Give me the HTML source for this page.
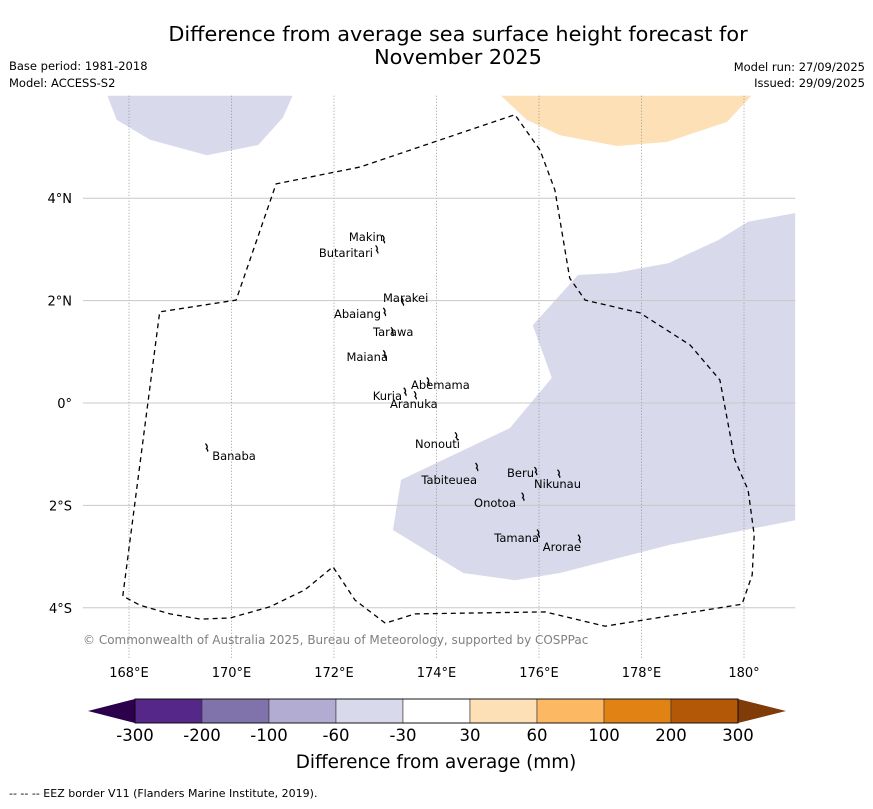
<!DOCTYPE html>
<html><head><meta charset="utf-8"><style>
body{margin:0;background:#fff;font-family:"Liberation Sans","DejaVu Sans",sans-serif}
svg text{font-family:"DejaVu Sans","Liberation Sans",sans-serif}
</style></head><body>
<svg id="s" width="873" height="804" xmlns="http://www.w3.org/2000/svg">
<text x="458" y="41" font-size="20.8" text-anchor="middle">Difference from average sea surface height forecast for</text>
<text x="458" y="64" font-size="20.8" text-anchor="middle">November 2025</text>
<text x="9" y="70" font-size="11.5">Base period: 1981-2018</text>
<text x="9" y="87" font-size="11.5">Model: ACCESS-S2</text>
<text x="865" y="71" font-size="11.5" text-anchor="end">Model run: 27/09/2025</text>
<text x="865" y="87" font-size="11.5" text-anchor="end">Issued: 29/09/2025</text>
<g id="map"></g>
<text x="83" y="644" font-size="12" fill="#808080">© Commonwealth of Australia 2025, Bureau of Meteorology, supported by COSPPac</text>
<g id="cbar"></g>
<text x="436" y="768" font-size="18.4" text-anchor="middle">Difference from average (mm)</text>
<text x="9" y="797" font-size="11">--  --  -- EEZ border V11 (Flanders Marine Institute, 2019).</text>
</svg>
<script>
const NS="http://www.w3.org/2000/svg";
const lonTicks=[168,170,172,174,176,178,180];
const lonLabels=["168°E","170°E","172°E","174°E","176°E","178°E","180°"];
const latTicks=[4,2,0,-2,-4];
const latLabels=["4°N","2°N","0°","2°S","4°S"];
const negRegionA=[[173.15,-2.48],[173.31,-1.5],[175.43,-0.49],[176.25,0.49],[175.88,1.52],[176.76,2.5],[177.48,2.54],[178.52,2.73],[179.49,3.18],[180.08,3.54],[181,3.71],[181,-2.29],[178.56,-2.77],[176.41,-3.32],[175.53,-3.46],[174.52,-3.32]];
const negRegionB=[[167.57,6.02],[167.76,5.53],[168.41,5.14],[169.52,4.84],[170.52,5.04],[171.0,5.57],[171.2,6.02]];
const posRegion=[[175.24,6.02],[175.76,5.53],[176.41,5.23],[177.52,5.02],[178.5,5.1],[179.67,5.49],[180.16,6.02]];
const eez=[[167.88,-3.77],[168.6,1.78],[170.09,2.01],[170.87,4.28],[172.51,4.61],[175.53,5.63],[176.02,4.94],[176.31,4.16],[176.6,2.44],[176.9,2.01],[177.97,1.76],[178.95,1.13],[179.53,0.45],[179.82,-1.11],[180.08,-1.7],[180.2,-2.58],[180.16,-3.36],[179.96,-3.93],[177.29,-4.36],[176.12,-4.08],[173.58,-4.12],[173.0,-4.3],[172.41,-3.85],[171.98,-3.2],[171.43,-3.65],[170.75,-3.98],[169.97,-4.2],[169.39,-4.22],[168.8,-4.12],[168.21,-3.95],[167.88,-3.77]];
const islandNames=["Makin","Butaritari","Marakei","Abaiang","Tarawa","Maiana","Abemama","Kuria","Aranuka","Nonouti","Tabiteuea","Beru","Nikunau","Onotoa","Tamana","Arorae","Banaba"];
const islandLon=[172.98,172.85,173.35,173.0,173.15,173.0,173.85,173.4,173.6,174.4,174.8,175.95,176.4,175.7,176.0,176.8,169.53];
const islandLat=[3.2,3.0,1.98,1.78,1.4,0.95,0.42,0.22,0.15,-0.65,-1.25,-1.33,-1.38,-1.83,-2.55,-2.65,-0.87];
const labelX=[383,373,383,381,373,388,411,402,390,460,477,534,534,516,539,581,234];
const labelY=[241,257,302,318,336,361,389,400,408,448,484,477,488,507,542,551,460];
const labelAnchor=["end","end","start","end","start","end","start","end","start","end","end","end","start","end","end","end","middle"];
const cbLevels=["-300","-200","-100","-60","-30","30","60","100","200","300"];
const cbColors=["#542788","#8073ac","#b2abd2","#d8daeb","#ffffff","#fee0b6","#fdb863","#e08214","#b35806"];
const X=l=>129+(l-168)*51.25, Y=a=>403-a*51.2;
const map=document.getElementById('map');
function mk(tag,attrs,parent){const e=document.createElementNS(NS,tag);for(const k in attrs)e.setAttribute(k,attrs[k]);parent.appendChild(e);return e;}
function pts(a){return a.map(p=>X(p[0]).toFixed(1)+","+Y(p[1]).toFixed(1)).join(" ");}
const clip=mk('clipPath',{id:'cp'},map);mk('rect',{x:X(167),y:Y(6),width:X(181)-X(167),height:Y(-5)-Y(6)},clip);
const g=mk('g',{'clip-path':'url(#cp)'},map);
let e=mk('polygon',{points:pts(negRegionA),fill:'#d8daeb'},g);

e=mk('polygon',{points:pts(negRegionB),fill:'#d8daeb'},g);

e=mk('polygon',{points:pts(posRegion),fill:'#fee0b6'},g);

lonTicks.forEach((l,i)=>{
 e=mk('line',{x1:X(l),x2:X(l),y1:Y(6),y2:Y(-5),stroke:'#888','stroke-width':0.8,'stroke-dasharray':'1,2'},map);
 
 e=mk('text',{x:X(l),y:677,'font-size':13,'text-anchor':'middle'},map);e.textContent=lonLabels[i];
 
});
latTicks.forEach((a,i)=>{
 e=mk('line',{x1:X(167.1),x2:X(181),y1:Y(a),y2:Y(a),stroke:'#c8c8c8','stroke-width':1},map);
 
 e=mk('text',{x:72,y:Y(a)+5,'font-size':13,'text-anchor':'end'},map);e.textContent=latLabels[i];
 
});
e=mk('polyline',{points:pts(eez),fill:'none',stroke:'#000','stroke-width':1.3,'stroke-dasharray':'5,4'},map);

islandNames.forEach((n,i)=>{
 const cx=X(islandLon[i]),cy=Y(islandLat[i]);
 e=mk('path',{d:`M${cx-2},${cy-4} q3,3 1,5 q2,2 1,3`,fill:'none',stroke:'#000','stroke-width':1.3},map);
 
 e=mk('text',{x:labelX[i],y:labelY[i],'font-size':11.5,'text-anchor':labelAnchor[i]},map);e.textContent=n;
 
});
const cb=document.getElementById('cbar');const cx0=135,cw=67,cy0=699,ch=24;
e=mk('polygon',{points:`${cx0},${cy0} ${cx0},${cy0+ch} 88,${cy0+ch/2}`,fill:'#2d004b'},cb);

e=mk('polygon',{points:`${cx0+9*cw},${cy0} ${cx0+9*cw},${cy0+ch} 786,${cy0+ch/2}`,fill:'#7f3b08'},cb);

cbColors.forEach((c,i)=>{
 e=mk('rect',{x:cx0+i*cw,y:cy0,width:cw,height:ch,fill:c,stroke:'#333','stroke-width':0.6},cb);
 
});
mk('rect',{x:cx0,y:cy0,width:9*cw,height:ch,fill:'none',stroke:'#000','stroke-width':0.8},cb);
cbLevels.forEach((t,i)=>{
 e=mk('text',{x:cx0+i*cw,y:741,'font-size':16.5,'text-anchor':'middle'},cb);e.textContent=t;
 
});
</script>
</body></html>
